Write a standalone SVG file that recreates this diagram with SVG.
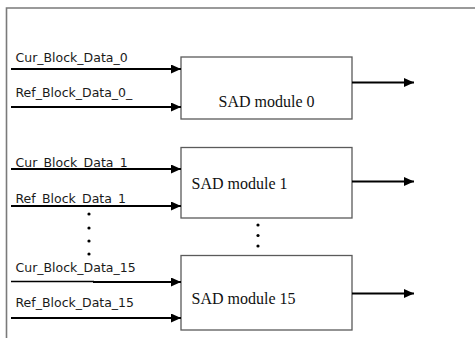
<svg xmlns="http://www.w3.org/2000/svg" width="475" height="338" viewBox="0 0 475 338">
  <style>
    .frame { fill: none; stroke: #7a7a7a; stroke-width: 1.6; }
    .box { fill: #ffffff; stroke: #5a5a5a; stroke-width: 1.3; }
    .wire { fill: none; stroke: #000000; stroke-width: 2; marker-end: url(#head); }
    .sig { font-family: "DejaVu Sans", "Liberation Sans", sans-serif; font-size: 12.5px; fill: #1a1a1a; }
    .name { font-family: "Liberation Serif", "Times New Roman", serif; font-size: 16px; fill: #111111; }
    .dot { fill: #000000; }
  </style>
  <defs>
    <marker id="head" markerWidth="10" markerHeight="9" refX="10" refY="4.5" orient="auto" markerUnits="userSpaceOnUse">
      <path d="M0,0 L10,4.5 L0,9 Z" fill="#000000"/>
    </marker>
  </defs>

  <rect width="475" height="338" fill="#ffffff"/>

  <!-- outer frame: top and left edges only -->
  <path class="frame" d="M6.5,338 V8 H475"/>

  <!-- input signal labels -->
  <text class="sig" x="15.5" y="62">Cur_Block_Data_0</text>
  <text class="sig" x="15.5" y="97">Ref_Block_Data_0_</text>
  <text class="sig" x="15.5" y="167">Cur_Block_Data_1</text>
  <text class="sig" x="15.5" y="203">Ref_Block_Data_1</text>
  <text class="sig" x="15.5" y="272">Cur_Block_Data_15</text>
  <text class="sig" x="15.5" y="307">Ref_Block_Data_15</text>

  <g id="sad0">
    <rect class="box" x="181" y="57" width="171" height="62"/>
    <text class="name" x="266.5" y="107" text-anchor="middle">SAD module 0</text>
  </g>
  <g id="sad1">
    <rect class="box" x="181" y="147.5" width="171" height="70.5"/>
    <text class="name" x="191.5" y="189">SAD module 1</text>
  </g>
  <g id="sad15">
    <rect class="box" x="181" y="255.5" width="171" height="74.5"/>
    <text class="name" x="191.5" y="304">SAD module 15</text>
  </g>

  <!-- ellipsis marks -->
  <g id="ellipsis">
    <circle class="dot" cx="89" cy="214" r="1.6"/>
    <circle class="dot" cx="89" cy="228" r="1.6"/>
    <circle class="dot" cx="89" cy="241" r="1.6"/>
    <circle class="dot" cx="89" cy="254" r="1.6"/>
    <circle class="dot" cx="258" cy="225" r="1.6"/>
    <circle class="dot" cx="258" cy="235.5" r="1.6"/>
    <circle class="dot" cx="258" cy="246" r="1.6"/>
  </g>

  <g id="connectors">
    <line class="wire" x1="11" y1="69" x2="181" y2="69"/>
    <line class="wire" x1="11" y1="107" x2="181" y2="107"/>
    <line class="wire" x1="11" y1="169" x2="181" y2="169"/>
    <line class="wire" x1="11" y1="206" x2="181" y2="206"/>
    <line x1="11" y1="281.5" x2="94" y2="281.5" stroke="#000000" stroke-width="1.4"/>
    <line class="wire" x1="93" y1="282" x2="181" y2="282"/>
    <line class="wire" x1="11" y1="318" x2="181" y2="318"/>
    <line class="wire" x1="352" y1="82.5" x2="414" y2="82.5"/>
    <line class="wire" x1="352" y1="181.5" x2="414" y2="181.5"/>
    <line class="wire" x1="352" y1="293.5" x2="414" y2="293.5"/>
  </g>
</svg>
